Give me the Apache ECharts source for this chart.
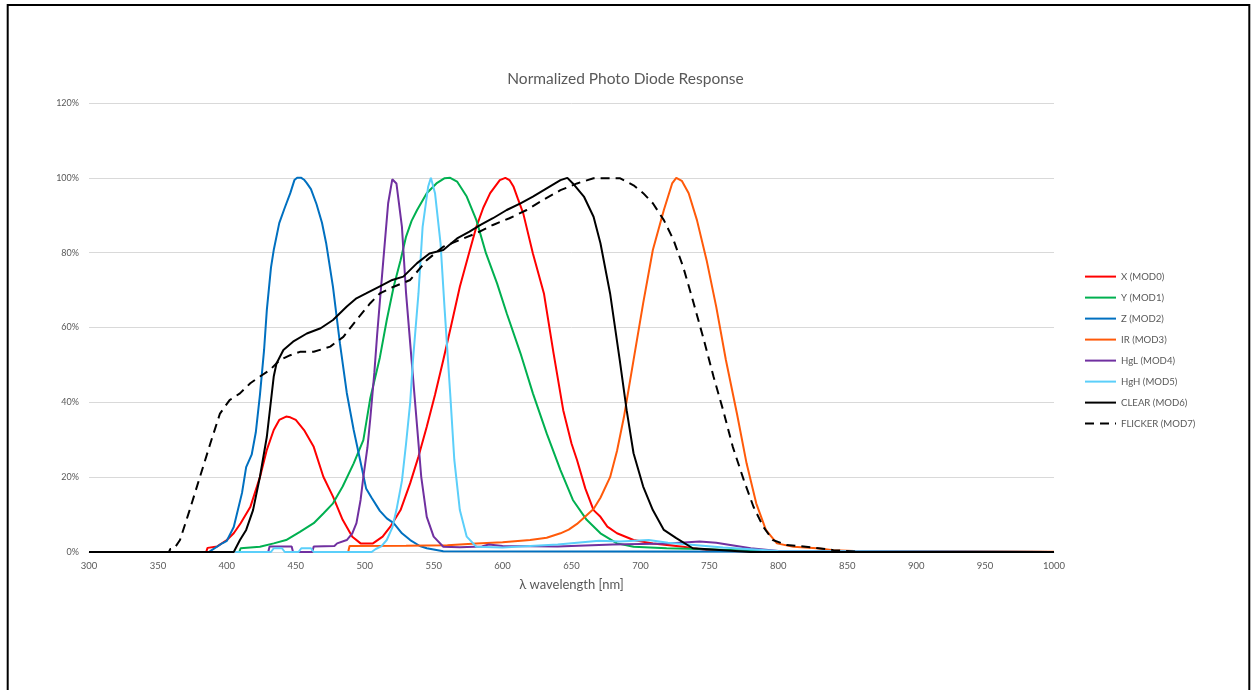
<!DOCTYPE html>
<html>
<head>
<meta charset="utf-8">
<script src="https://cdn.jsdelivr.net/npm/echarts@6/dist/echarts.min.js"></script>
<style>
html,body{margin:0;padding:0;background:#fff;}
#chart{width:1251px;height:690px;}
</style>
</head>
<body>
<div id="chart"></div>
<script>
// wavelength [nm], normalized response [%]
const seriesNames = ['X (MOD0)','Y (MOD1)','Z (MOD2)','IR (MOD3)','HgL (MOD4)','HgH (MOD5)','CLEAR (MOD6)','FLICKER (MOD7)'];
const xTicks = [300,350,400,450,500,550,600,650,700,750,800,850,900,950,1000];
const yTicks = [0,20,40,60,80,100,120];

const X_MOD0 = [[385,0],[386,1.1],[393,1.5],[400,3.2],[405,5],[410,7.7],[417,12],[424,20],[429,27.3],[434,32.6],[438,35.3],[443,36.2],[446,36],[450,35.3],[456,32.6],[463,28.1],[470,20.1],[477,14.8],[484,8.6],[491,4.1],[497,2.3],[506,2.3],[513,4.1],[519,7],[526,11.2],[533,18.4],[539,25.5],[545,33.5],[551,42],[557,51.3],[563,61],[569,70.9],[575,79],[581,86.9],[586,92],[591,95.9],[598,99.4],[602,100],[605,99.4],[608,97.6],[611,94.5],[615,90.5],[622,79.8],[630,69.1],[637,53.1],[644,37.9],[650,29],[654,24.6],[660,17],[666,11.2],[671,9.4],[676,6.8],[683,5],[695,3.2],[709,2.3],[731,1.4],[748,0.5],[770,0.2],[1000,0]];
const Y_MOD1 = [[409,0],[410,1],[424,1.4],[434,2.3],[443,3.2],[453,5.4],[463,7.7],[470,10.3],[477,13],[484,17.5],[492,23.7],[499,29.9],[504,41],[511,52],[516,62],[521,70.9],[526,78],[530,84.3],[534,88.5],[538,91.4],[545,95.9],[552,98.5],[558,99.9],[562,100],[567,99],[574,95],[581,88.7],[588,79.8],[596,71.8],[603,63.8],[613,53.1],[622,42.4],[632,31.7],[642,21.9],[651,13.9],[661,8.6],[671,5],[683,2.3],[695,1.4],[719,1],[743,0.8],[770,0.5],[790,0.2],[1000,0]];
const Z_MOD2 = [[387,0],[389,0.5],[397,2.4],[400,3],[405,6.7],[411,15.8],[414,22.7],[418,26],[421,32],[424,42],[427,54],[429,64.7],[432,76],[434,80.7],[438,87.9],[442,92],[446,95.9],[449,99.4],[451,100],[454,100],[456,99.5],[458,98.6],[461,97],[465,93],[469,88],[472,82.6],[477,70.8],[482,55.8],[487,42.5],[492,32.6],[497,24],[501,17],[505,14.5],[511,11],[516,9],[521,7.7],[527,5],[533,3.2],[540,1.6],[545,1],[557,0.2],[1000,0]];
const IR_MOD3 = [[452,0],[488,0],[489,1.6],[530,1.7],[560,1.8],[581,2.3],[600,2.6],[620,3.2],[632,3.8],[642,5],[648,6],[654,7.5],[660,9.5],[666,11.5],[671,14.5],[678,20],[683,27],[688,36],[695,51.3],[702,66.5],[709,80.7],[717,91.4],[723,98.5],[726,100],[730,99.2],[735,95.9],[741,88.7],[748,78],[755,65.5],[762,51.3],[770,37],[777,23.7],[784,13],[791,5.9],[799,2.3],[811,1.4],[828,1],[840,0.5],[860,0.2],[1000,0.1]];
const HgL_MOD4 = [[430,0],[431,1.5],[447,1.5],[448,0],[462,0],[463,1.5],[478,1.6],[480,2.3],[487,3.2],[491,5],[494,7.7],[497,13.9],[499,20],[502,28],[504,35.5],[507,48],[509,58],[511,67],[513.5,78],[517,93.2],[520,99.6],[521,100],[523,98.5],[527,86.9],[530,69.1],[534,51.3],[538,33.5],[541,20.1],[545,9.4],[550,4.1],[557,1.4],[569,1.3],[585,1.5],[590,2],[600,1.6],[640,1.5],[680,2],[720,2.3],[743,2.8],[755,2.5],[780,1],[800,0.3],[1000,0]];
const HgH_MOD5 = [[406,0],[432,0],[434,1],[440,1],[442,0],[452,0],[454,1],[461,1],[463,0],[505,0],[508,0.8],[512,1.5],[516,3.2],[520,6.5],[523,11.2],[527,19],[530,29],[533,40],[535,51.3],[539,69.1],[542,86.9],[546,97.6],[548,100],[551,95.9],[555,82.5],[558,64.7],[562,42.4],[565,24.6],[569,11.2],[574,4.1],[581,1.4],[600,1.2],[640,2],[670,3],[685,2.8],[706,3.2],[720,2.5],[760,1.2],[800,0.3],[1000,0]];
const CLEAR_MOD6 = [[300,0],[405,0],[406,0.5],[409.5,3.2],[414,5.9],[419,11.2],[424,20.1],[429,30.8],[434,46.9],[436,50.4],[441,54],[448,56.2],[458,58.4],[468,59.8],[477,62],[487,65.6],[494,67.8],[501,69.1],[511,71],[520,72.7],[528,73.6],[538,77.2],[547,79.8],[557,80.7],[567,83.8],[576,85.6],[584,87.4],[593,89.2],[603,91.4],[613,93.2],[622,95],[632,97.2],[642,99.4],[647,100],[651,98.5],[659,95],[666,89.6],[671,82.5],[678,69.1],[685,51.3],[690,37.9],[695,26.4],[702,17.5],[709,11.2],[717,5.9],[726,3.7],[738,1],[760,0.5],[780,0],[1000,0]];
const FLICKER_MOD7 = [[300,0],[358,0],[359,0.8],[362,1],[366,3.2],[373,11.2],[380.5,20.1],[388,29],[395,37],[402,40.6],[409.5,42.4],[417,45.1],[424,46.9],[431,48.6],[438.5,51.3],[446,52.6],[453,53.5],[463,53.5],[475,54.9],[484.5,57.5],[494,62],[504,66.5],[511,69.1],[521,70.9],[533,72.7],[545,78],[557,81.6],[569,83.4],[581,85.2],[593,87.4],[605,89.2],[617.5,91.4],[629.5,94.1],[642,96.7],[654,98.5],[666,99.9],[685,99.9],[695,98],[702,95.9],[709,93.2],[717,88.7],[724,83.4],[731,76.2],[738,67.3],[746,56.7],[753,46.9],[760,37.9],[767,28.1],[775,19.2],[782,12.1],[789,6.8],[796,3.2],[806,1.9],[825,1.2],[840,0.5],[860,0],[1000,0]];

const seriesData = [X_MOD0, Y_MOD1, Z_MOD2, IR_MOD3, HgL_MOD4, HgH_MOD5, CLEAR_MOD6, FLICKER_MOD7];
const colors = ['#FF0000','#00B050','#0070C0','#FF5A0A','#7030A0','#5BCFFA','#000000','#000000'];

const chart = echarts.init(document.getElementById('chart'), null, {renderer:'canvas'});
const FONT = 'Lato, "Open Sans", sans-serif';
chart.setOption({
  animation: false,
  backgroundColor: '#ffffff',
  title: {
    text: 'Normalized Photo Diode Response',
    left: 'center', top: 66,
    textStyle: {fontFamily: FONT, fontSize: 15.5, fontWeight: 'normal', color: '#595959'}
  },
  graphic: [{
    type: 'rect', silent: true,
    shape: {x: 7.7, y: 5, width: 1241.6, height: 700},
    style: {fill: 'none', stroke: '#000', lineWidth: 2}
  }],
  legend: {
    orient: 'vertical', left: 1084, top: 271, padding: 0,
    itemWidth: 31, itemHeight: 14, itemGap: 9.8,
    data: seriesNames,
    itemStyle: {opacity: 0},
    textStyle: {fontFamily: FONT, fontSize: 9.6, color: '#595959'}
  },
  grid: {left: 89, right: 197, top: 103, bottom: 138, containLabel: false},
  xAxis: {
    type: 'value', min: 300, max: 1000, interval: 50,
    name: 'λ wavelength [nm]', nameLocation: 'middle', nameGap: 26,
    nameTextStyle: {fontFamily: FONT, fontSize: 13, color: '#595959'},
    axisLine: {show: true, lineStyle: {color: '#d9d9d9', width: 1}},
    axisTick: {show: false},
    splitLine: {show: false},
    axisLabel: {fontFamily: FONT, fontSize: 9.5, color: '#595959', margin: 9,
      formatter: function(v){ return String(v); }}
  },
  yAxis: {
    type: 'value', min: 0, max: 120, interval: 20,
    axisLine: {show: false}, axisTick: {show: false},
    splitLine: {show: true, lineStyle: {color: '#d9d9d9', width: 1}},
    axisLabel: {fontFamily: FONT, fontSize: 9, color: '#595959', margin: 10,
      formatter: function(v){ return v + '%'; }}
  },
  series: seriesNames.map(function(n, i){
    return {
      name: n, type: 'line', data: seriesData[i],
      symbol: 'none', showSymbol: false, smooth: false,
      color: colors[i],
      lineStyle: {color: colors[i], width: 2, type: i === 7 ? [9, 6] : 'solid'},
      z: 2 + i
    };
  })
});
</script>
</body>
</html>
